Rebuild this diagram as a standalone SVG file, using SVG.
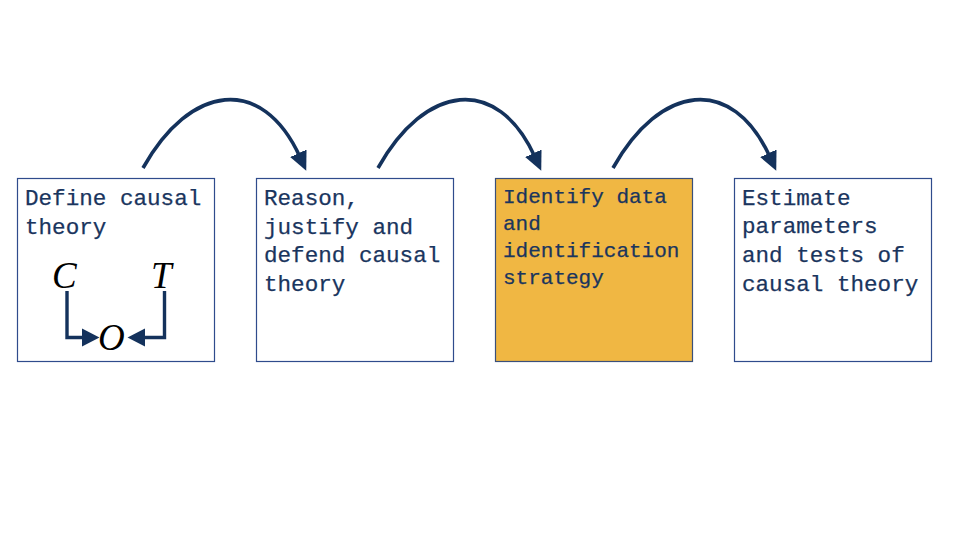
<svg xmlns="http://www.w3.org/2000/svg" width="960" height="540" viewBox="0 0 960 540">
<style>
.box{fill:#ffffff;stroke:#2f4b8c;stroke-width:1.2}
.hl{fill:#f0b743;stroke:#3a4f7a;stroke-width:1.2}
.t{font-family:"Liberation Mono","DejaVu Sans Mono",monospace;font-size:22.6px;fill:#1a355e;stroke:#1a355e;stroke-width:0.25}
.t3{font-family:"Liberation Mono","DejaVu Sans Mono",monospace;font-size:21px;fill:#1a355e;stroke:#1a355e;stroke-width:0.25}
.m{font-family:"Liberation Serif","DejaVu Serif",serif;font-style:italic;font-size:37px;fill:#000}
.arc{fill:none;stroke:#14325c;stroke-width:3.6;marker-end:url(#ah)}
.dl{fill:none;stroke:#14325c;stroke-width:3.4}
.dh{fill:#14325c}
</style>
<defs>
<marker id="ah" markerUnits="userSpaceOnUse" markerWidth="22" markerHeight="22" viewBox="0 0 22 22" refX="4" refY="11" orient="auto">
<path d="M0,2 L19,11 L0,20 Z" fill="#14325c"/>
</marker>
</defs>
<rect width="960" height="540" fill="#ffffff"/>
<g id="connectors">
<path class="arc" d="M143,168 C190,84 262,74 300,157"/>
<path class="arc" d="M378,168 C425,84 497,74 535,157"/>
<path class="arc" d="M613,168 C660,84 732,74 770,157"/>
</g>
<g id="node1">
<rect class="box" x="17.5" y="178.5" width="197" height="183"/>
<text class="t" x="25" y="204.5">Define causal</text>
<text class="t" x="25" y="233.5">theory</text>
<g id="dag">
<text class="m" x="52" y="288">C</text>
<text class="m" x="151" y="288">T</text>
<text class="m" x="98" y="350">O</text>
<path class="dl" d="M67,291 V337.5 H84"/>
<path class="dh" d="M82,328.5 L99.5,337.5 L82,346.5 Z"/>
<path class="dl" d="M164.5,291 V337.5 H143"/>
<path class="dh" d="M145,328.5 L127.5,337.5 L145,346.5 Z"/>
</g>
</g>
<g id="node2">
<rect class="box" x="256.5" y="178.5" width="197" height="183"/>
<text class="t" x="264" y="205">Reason,</text>
<text class="t" x="264" y="233.7">justify and</text>
<text class="t" x="264" y="262.4">defend causal</text>
<text class="t" x="264" y="291">theory</text>
</g>
<g id="node3">
<rect class="hl" x="495.5" y="178.5" width="197" height="183"/>
<text class="t3" x="503" y="203">Identify data</text>
<text class="t3" x="503" y="230">and</text>
<text class="t3" x="503" y="257">identification</text>
<text class="t3" x="503" y="284">strategy</text>
</g>
<g id="node4">
<rect class="box" x="734.5" y="178.5" width="197" height="183"/>
<text class="t" x="742" y="204.5">Estimate</text>
<text class="t" x="742" y="233.2">parameters</text>
<text class="t" x="742" y="261.9">and tests of</text>
<text class="t" x="742" y="290.6">causal theory</text>
</g>
</svg>
